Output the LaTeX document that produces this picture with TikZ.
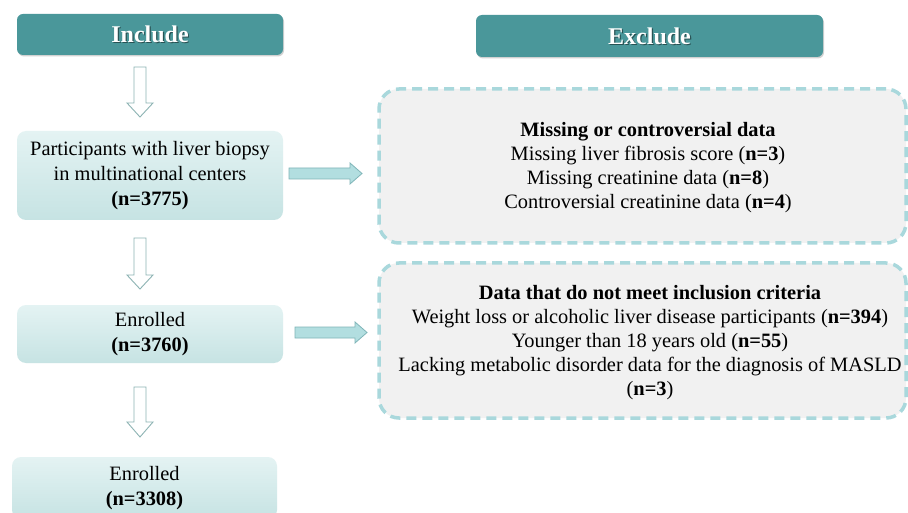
\documentclass[tikz,border=0pt]{standalone}
\usepackage{fontspec}
\setmainfont{Liberation Serif}
\usetikzlibrary{shadows,calc}
\definecolor{tealhead}{HTML}{4A979A}
\definecolor{boxtop}{HTML}{E4F3F3}
\definecolor{boxbot}{HTML}{C6E3E3}
\definecolor{dashc}{HTML}{A9D8DC}
\definecolor{grayfill}{HTML}{F1F1F1}
\definecolor{hollowc}{HTML}{8DB3B3}
\definecolor{rarrfill}{HTML}{B2DEE0}
\definecolor{rarrdraw}{HTML}{7FB5B8}
\newcommand\rblock[3]{%
  \draw[rarrow] (#1,#3-5.5) -- (#2-12,#3-5.5) -- (#2-12,#3-10.5) -- (#2,#3) -- (#2-12,#3+10.5) -- (#2-12,#3+5.5) -- (#1,#3+5.5) -- cycle;}
\newcommand\dblock[4]{%
  \draw[hollow] (#1-6,#2) -- (#1+6,#2) -- (#1+6,#3) -- (#1+13,#3) -- (#1,#4) -- (#1-13,#3) -- (#1-6,#3) -- cycle;}
\begin{document}
\begin{tikzpicture}[x=1pt,y=-1pt,
  header/.style={fill=tealhead, rounded corners=6pt, minimum height=41pt, inner sep=0pt,
    drop shadow={opacity=0.35, shadow xshift=1pt, shadow yshift=-1.5pt}},
  headtxt/.style={text=white, font=\fontsize{24}{28}\selectfont\bfseries, inner sep=0pt},
  headshade/.style={text=black, opacity=0.45, font=\fontsize{24}{28}\selectfont\bfseries, inner sep=0pt},
  inbox/.style={top color=boxtop, bottom color=boxbot, rounded corners=9pt, align=center,
    font=\fontsize{20.4}{25}\selectfont, inner sep=0pt},
  exbox/.style={draw=dashc, line width=3.5pt, dash pattern=on 10pt off 6pt, fill=grayfill,
    rounded corners=20pt, inner sep=0pt},
  extxt/.style={align=center, font=\fontsize{20.4}{24}\selectfont, inner sep=0pt},
  hollow/.style={draw=hollowc, fill=white, line width=0.9pt, line join=miter},
  rarrow/.style={draw=rarrdraw, fill=rarrfill, line width=0.8pt},
]
\useasboundingbox (0,0) rectangle (908,513);
\fill[white] (0,0) rectangle (908,513);
\clip (0,0) rectangle (908,513);

% headers
\node[header, minimum width=266pt] (inc) at (150,34.5) {};
\node[headshade] (incs) at ($(inc)+(1.2,1.2)$) {Include};
\node[headtxt] (inct) at (inc) {Include};
\node[header, minimum width=347pt, minimum height=42pt] (exc) at (649.5,36) {};
\node[headshade] (excs) at ($(exc)+(1.2,1.2)$) {Exclude};
\node[headtxt] (exct) at (exc) {Exclude};

% left boxes
\node[inbox, minimum width=266pt, minimum height=89pt] (b1) at (150,175.5)
  {Participants with liver biopsy\\in multinational centers\\\textbf{(n=3775)}};
\node[inbox, minimum width=266pt, minimum height=58pt] (b2) at (150,334)
  {Enrolled\\\textbf{(n=3760)}};
\node[inbox, minimum width=265pt, minimum height=62pt] (b3) at (144.5,488)
  {Enrolled\\\textbf{(n=3308)}};

% exclusion boxes
\node[exbox, minimum width=527pt, minimum height=154pt] (e1) at (642.5,166) {};
\node[extxt] (e1t) at (648,168)
  {\textbf{Missing or controversial data}\\
   Missing liver fibrosis score (\textbf{n=3})\\
   Missing creatinine data (\textbf{n=8})\\
   Controversial creatinine data (\textbf{n=4})};
\node[exbox, minimum width=527pt, minimum height=155pt] (e2) at (642.5,340.5) {};
\node[extxt] (e2t) at (650,343)
  {\textbf{Data that do not meet inclusion criteria}\\
   Weight loss or alcoholic liver disease participants (\textbf{n=394})\\
   Younger than 18 years old (\textbf{n=55})\\
   Lacking metabolic disorder data for the diagnosis of MASLD\\
   (\textbf{n=3})};

% hollow down arrows
\dblock{140}{67}{103}{117}
\dblock{140}{238}{275}{289}
\dblock{140}{387}{422}{437}

% right arrows
\rblock{289}{362}{173.5}
\rblock{295}{367}{332.5}
\end{tikzpicture}
\end{document}
